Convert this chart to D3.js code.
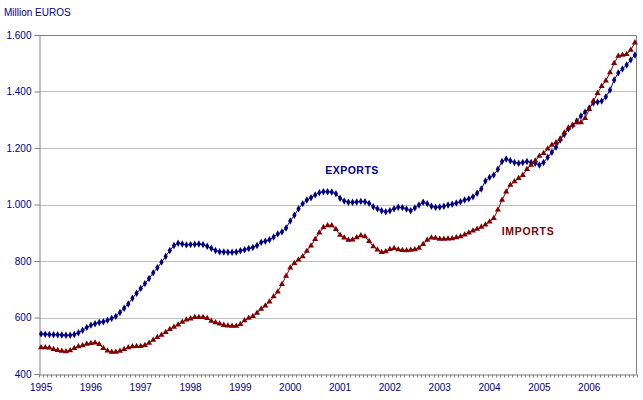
<!DOCTYPE html>
<html>
<head>
<meta charset="utf-8">
<script src="https://cdn.jsdelivr.net/npm/d3@7"></script>
<style>
	body { margin: 0; background: #fff; }
	text { font-family: "Liberation Sans", Arial, sans-serif; }
</style>
</head>
<body>
<div id="chart"></div>
<script>

// years shown on the x axis (one label every 12 months)
const years = ["1995", "1996", "1997", "1998", "1999", "2000", "2001", "2002", "2003", "2004", "2005", "2006"];

// monthly exports, million euros
const exports = [
	542, 541, 540, 539, 539, 538, 537, 537, 540, 546, 555, 565,
	573, 578, 582, 585, 590, 597, 604, 618, 633, 648, 668, 686,
	703, 720, 738, 758, 776, 796, 816, 837, 855, 863, 860, 857,
	858, 859, 860, 858, 852, 845, 837, 833, 832, 831, 831, 832,
	836, 840, 844, 848, 855, 866, 870, 875, 885, 896, 903, 917,
	942, 962, 985, 1003, 1016, 1024, 1034, 1042, 1045, 1045, 1044, 1038,
	1022, 1012, 1008, 1008, 1009, 1011, 1010, 1004, 992, 985, 978, 974,
	978, 985, 990, 989, 984, 978, 988, 998, 1008, 1003, 994, 990,
	991, 994, 998, 1001, 1005, 1010, 1016, 1020, 1027, 1040, 1055, 1083,
	1096, 1104, 1125, 1152, 1161, 1155, 1149, 1146, 1149, 1152, 1149, 1146,
	1140, 1149, 1167, 1185, 1203, 1228, 1248, 1268, 1280, 1296, 1313, 1327,
	1342, 1359, 1363, 1366, 1381, 1405, 1441, 1466, 1480, 1494, 1512, 1529
];

// monthly imports, million euros
const imports = [
	494, 494, 493, 488, 484, 481, 480, 483, 491, 497, 501, 506,
	509, 511, 505, 491, 482, 478, 478, 481, 488, 494, 497, 498,
	498, 502, 510, 520, 530, 538, 548, 558, 566, 574, 584, 592,
	596, 601, 601, 601, 597, 588, 582, 578, 573, 571, 570, 570,
	576, 589, 598, 604, 616, 630, 642, 656, 674, 691, 718, 747,
	776, 792, 804, 816, 835, 854, 877, 900, 919, 926, 926, 912,
	892, 882, 874, 875, 883, 890, 887, 870, 851, 840, 831, 834,
	842, 845, 841, 838, 837, 839, 841, 846, 859, 874, 882, 881,
	878, 878, 879, 880, 883, 887, 893, 900, 907, 913, 920, 928,
	939, 951, 981, 1016, 1045, 1069, 1081, 1093, 1104, 1125, 1140, 1155,
	1172, 1181, 1197, 1211, 1219, 1233, 1254, 1272, 1281, 1290, 1290, 1305,
	1337, 1366, 1394, 1419, 1438, 1467, 1500, 1526, 1529, 1532, 1547, 1573
];

const yTicks = [400, 600, 800, 1000, 1200, 1400, 1600];

const seriesNames = ["EXPORTS", "IMPORTS"];


class TradeChart {

	constructor(parentElement) {
		this.parentElement = parentElement;
		this.initVis();
	}

	initVis() {
		let vis = this;

		vis.margin = { top: 35, right: 6, bottom: 26, left: 39 };
		vis.width = 643 - vis.margin.left - vis.margin.right;
		vis.height = 400 - vis.margin.top - vis.margin.bottom;

		vis.svg = d3.select('#' + vis.parentElement).append("svg")
			.attr("width", 643)
			.attr("height", 400)
			.append("g")
			.attr("transform", "translate(" + vis.margin.left + "," + vis.margin.top + ")");

		vis.x = d3.scaleBand()
			.domain(d3.range(exports.length))
			.range([0, vis.width]);

		vis.y = d3.scaleLinear()
			.domain([400, 1600])
			.range([vis.height, 0]);

		// unit title
		vis.svg.append("text")
			.attr("x", 4 - vis.margin.left)
			.attr("y", 16 - vis.margin.top)
			.attr("font-size", 10)
			.attr("fill", "#000080")
			.text("Million EUROS");

		vis.updateVis();
	}

	updateVis() {
		let vis = this;

		// gridlines
		vis.svg.selectAll(".grid")
			.data(yTicks.slice(1, -1))
			.enter().append("line")
			.attr("class", "grid")
			.attr("x1", 0)
			.attr("x2", vis.width)
			.attr("y1", d => Math.round(vis.y(d)) + 0.5)
			.attr("y2", d => Math.round(vis.y(d)) + 0.5)
			.attr("stroke", "#c0c0c0");

		// plot border top + right
		vis.svg.append("path")
			.attr("d", "M0," + (vis.y(1600) + 0.5) + "H" + (vis.width - 0.5) + "V" + vis.height)
			.attr("fill", "none")
			.attr("stroke", "#808080");

		// y axis
		let yAxis = d3.axisLeft(vis.y)
			.tickValues(yTicks)
			.tickSize(5)
			.tickPadding(3)
			.tickFormat(d => d3.format(",")(d).replace(",", "."));

		vis.svg.append("g")
			.attr("class", "y-axis")
			.attr("transform", "translate(0.5,0)")
			.call(yAxis);

		// x axis: tick between every month, label at each January
		let xAxis = d3.axisBottom(vis.x)
			.tickValues([])
			.tickSizeOuter(0);

		let xg = vis.svg.append("g")
			.attr("class", "x-axis")
			.attr("transform", "translate(0," + (vis.height + 0.5) + ")")
			.call(xAxis);

		xg.selectAll(".mtick")
			.data(d3.range(exports.length + 1))
			.enter().append("line")
			.attr("class", "mtick")
			.attr("x1", d => Math.round(d * vis.x.step()) + 0.5)
			.attr("x2", d => Math.round(d * vis.x.step()) + 0.5)
			.attr("y1", 0)
			.attr("y2", 3)
			.attr("stroke", "#808080");

		xg.selectAll(".year")
			.data(years)
			.enter().append("text")
			.attr("class", "year")
			.attr("x", (d, i) => vis.x(i * 12) + vis.x.bandwidth() / 2)
			.attr("y", 16.5)
			.attr("text-anchor", "middle")
			.attr("font-size", 10)
			.attr("fill", "#000080")
			.text(d => d);

		vis.svg.selectAll(".y-axis path, .x-axis path").attr("stroke", "#808080");
		vis.svg.selectAll(".y-axis line").attr("stroke", "#808080");
		vis.svg.selectAll(".y-axis text")
			.attr("font-size", 10)
			.attr("fill", "#000080")
			.attr("font-family", "'Liberation Sans', Arial, sans-serif");

		// series
		let cx = i => vis.x(i) + vis.x.bandwidth() / 2;

		let line = d3.line()
			.x((d, i) => cx(i))
			.y(d => vis.y(d));

		let series = [
			{ name: seriesNames[0], values: exports, color: "#000080", symbol: d3.symbolDiamond, size: 16 },
			{ name: seriesNames[1], values: imports, color: "#800000", symbol: d3.symbolTriangle, size: 16 }
		];

		series.forEach(s => {
			vis.svg.append("path")
				.datum(s.values)
				.attr("d", line)
				.attr("fill", "none")
				.attr("stroke", s.color)
				.attr("stroke-width", 1);

			vis.svg.selectAll(".m-" + s.name)
				.data(s.values)
				.enter().append("path")
				.attr("class", "m-" + s.name)
				.attr("transform", (d, i) => "translate(" + cx(i) + "," + vis.y(d) + ")")
				.attr("d", d3.symbol().type(s.symbol).size(s.size))
				.attr("fill", s.color);
		});

		// series labels
		vis.svg.append("text")
			.attr("x", 352 - vis.margin.left)
			.attr("y", 174 - vis.margin.top)
			.attr("text-anchor", "middle")
			.attr("font-size", 10.5)
			.attr("font-weight", "bold")
			.attr("letter-spacing", 0.5)
			.attr("fill", "#000080")
			.text(seriesNames[0]);

		vis.svg.append("text")
			.attr("x", 528 - vis.margin.left)
			.attr("y", 235 - vis.margin.top)
			.attr("text-anchor", "middle")
			.attr("font-size", 10.5)
			.attr("font-weight", "bold")
			.attr("letter-spacing", 0.7)
			.attr("fill", "#800000")
			.text(seriesNames[1]);
	}
}

new TradeChart("chart");

</script>
</body>
</html>
